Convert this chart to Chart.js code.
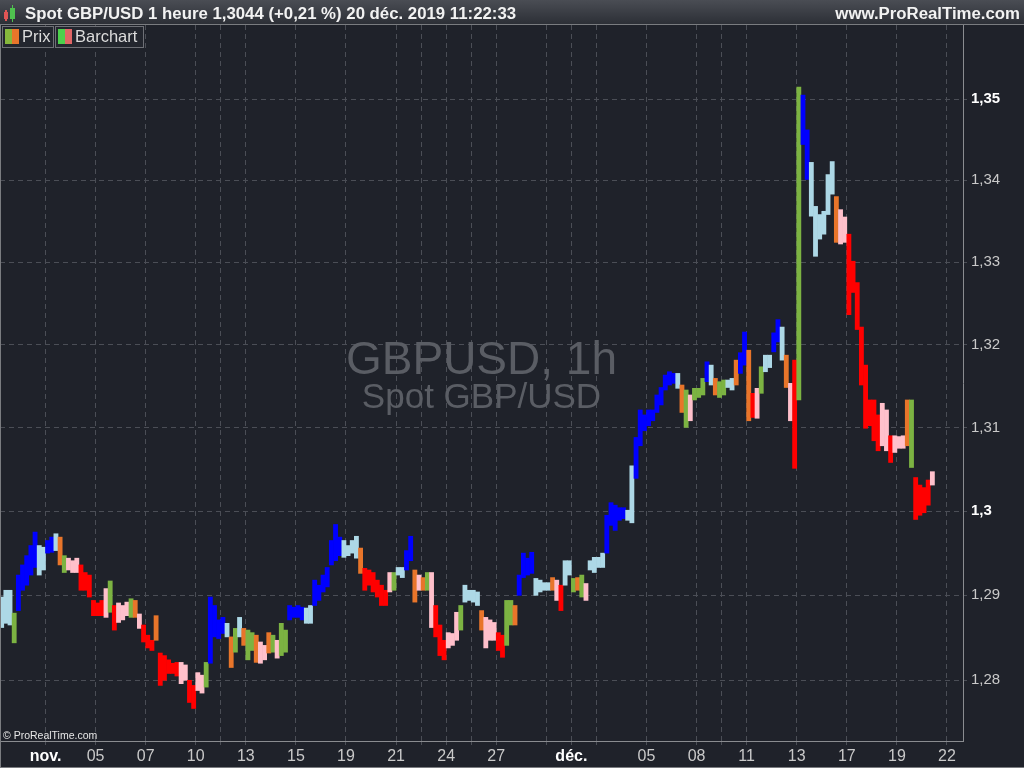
<!DOCTYPE html>
<html>
<head>
<meta charset="utf-8">
<script src="https://cdn.jsdelivr.net/npm/chart.js@4.4.1/dist/chart.umd.min.js"></script>
<style>
  html, body { margin: 0; padding: 0; background: #1f222a; }
  #c { display: block; }
</style>
</head>
<body>
<canvas id="c" width="1024" height="768"></canvas>
<script>
// GBP/USD hourly chart, aggregated to 4-hour bars (6 per trading day).
// Bar 0 starts 11 bars before the 1 Nov session.

const BARS_PER_DAY = 6;
const FIRST_BAR = -11;

const highs = [
  1.2898, 1.2906, 1.2906, 1.2879, 1.2924, 1.2936, 1.2947, 1.2959, 1.2975, 1.2959, 1.2957, 1.2965,
  1.2969, 1.2973, 1.2969, 1.2947, 1.2944, 1.2941, 1.2944, 1.2936, 1.2927, 1.2924, 1.2894, 1.2891,
  1.2894, 1.2908, 1.2917, 1.2888, 1.2891, 1.2888, 1.2892, 1.2896, 1.2894, 1.2878, 1.2865, 1.2853,
  1.2847, 1.2876, 1.2832, 1.2829, 1.2824, 1.2820, 1.2821, 1.2821, 1.2818, 1.2800, 1.2794, 1.2809,
  1.2806, 1.2821, 1.2898, 1.2888, 1.2871, 1.2874, 1.2867, 1.2851, 1.2861, 1.2874, 1.2861, 1.2859,
  1.2856, 1.2853, 1.2845, 1.2841, 1.2856, 1.2853, 1.2847, 1.2867, 1.2859, 1.2888, 1.2886, 1.2888,
  1.2886, 1.2885, 1.2888, 1.2918, 1.2912, 1.2924, 1.2933, 1.2965, 1.2984, 1.2969, 1.2965, 1.2959,
  1.2965, 1.2970, 1.2956, 1.2932, 1.2930, 1.2927, 1.2918, 1.2912, 1.2906, 1.2927, 1.2927, 1.2933,
  1.2933, 1.2953, 1.2970, 1.2930, 1.2924, 1.2921, 1.2927, 1.2927, 1.2888, 1.2865, 1.2847, 1.2856,
  1.2855, 1.2880, 1.2888, 1.2912, 1.2906, 1.2906, 1.2904, 1.2882, 1.2874, 1.2871, 1.2868, 1.2856,
  1.2853, 1.2894, 1.2894, 1.2888, 1.2924, 1.2950, 1.2944, 1.2951, 1.2920, 1.2918, 1.2915, 1.2915,
  1.2921, 1.2918, 1.2912, 1.2941, 1.2941, 1.2920, 1.2921, 1.2924, 1.2914, 1.2941, 1.2945, 1.2945,
  1.2950, 1.2995, 1.3010, 1.3007, 1.3004, 1.3004, 1.3001, 1.3054, 1.3088, 1.3121, 1.3115, 1.3121,
  1.3121, 1.3139, 1.3148, 1.3163, 1.3167, 1.3165, 1.3165, 1.3151, 1.3145, 1.3139, 1.3147, 1.3147,
  1.3159, 1.3179, 1.3175, 1.3159, 1.3155, 1.3157, 1.3157, 1.3159, 1.3181, 1.3190, 1.3215, 1.3193,
  1.3141, 1.3147, 1.3173, 1.3187, 1.3187, 1.3214, 1.3230, 1.3221, 1.3187, 1.3153, 1.3181, 1.3515,
  1.3505, 1.3462, 1.3422, 1.3368, 1.3358, 1.3362, 1.3407, 1.3423, 1.3380, 1.3364, 1.3355, 1.3334,
  1.3301, 1.3275, 1.3221, 1.3175, 1.3133, 1.3133, 1.3115, 1.3129, 1.3121, 1.3090, 1.3090, 1.3089,
  1.3090, 1.3133, 1.3133, 1.3040, 1.3031, 1.3028, 1.3037, 1.3047,
];

const lows = [
  1.2862, 1.2867, 1.2865, 1.2844, 1.2882, 1.2906, 1.2912, 1.2924, 1.2933, 1.2924, 1.2930, 1.2950,
  1.2951, 1.2953, 1.2936, 1.2927, 1.2930, 1.2927, 1.2927, 1.2906, 1.2906, 1.2898, 1.2876, 1.2876,
  1.2876, 1.2874, 1.2880, 1.2859, 1.2868, 1.2871, 1.2876, 1.2874, 1.2874, 1.2861, 1.2845, 1.2838,
  1.2835, 1.2847, 1.2794, 1.2800, 1.2808, 1.2808, 1.2805, 1.2796, 1.2800, 1.2774, 1.2767, 1.2788,
  1.2785, 1.2792, 1.2820, 1.2851, 1.2849, 1.2855, 1.2851, 1.2815, 1.2833, 1.2851, 1.2841, 1.2824,
  1.2835, 1.2821, 1.2820, 1.2824, 1.2832, 1.2833, 1.2826, 1.2829, 1.2833, 1.2871, 1.2874, 1.2874,
  1.2871, 1.2867, 1.2867, 1.2888, 1.2894, 1.2904, 1.2910, 1.2936, 1.2941, 1.2947, 1.2945, 1.2947,
  1.2950, 1.2944, 1.2926, 1.2906, 1.2912, 1.2904, 1.2898, 1.2888, 1.2888, 1.2904, 1.2906, 1.2924,
  1.2921, 1.2930, 1.2941, 1.2892, 1.2906, 1.2906, 1.2906, 1.2862, 1.2851, 1.2829, 1.2824, 1.2838,
  1.2841, 1.2847, 1.2859, 1.2892, 1.2894, 1.2892, 1.2888, 1.2859, 1.2838, 1.2847, 1.2847, 1.2835,
  1.2827, 1.2841, 1.2865, 1.2865, 1.2900, 1.2921, 1.2924, 1.2926, 1.2900, 1.2904, 1.2906, 1.2906,
  1.2906, 1.2894, 1.2882, 1.2912, 1.2924, 1.2904, 1.2906, 1.2898, 1.2894, 1.2930, 1.2927, 1.2933,
  1.2933, 1.2950, 1.2983, 1.2977, 1.2989, 1.2991, 1.2989, 1.2986, 1.3039, 1.3078, 1.3096, 1.3102,
  1.3108, 1.3118, 1.3127, 1.3145, 1.3151, 1.3153, 1.3147, 1.3118, 1.3100, 1.3108, 1.3133, 1.3136,
  1.3139, 1.3155, 1.3151, 1.3139, 1.3136, 1.3139, 1.3148, 1.3145, 1.3151, 1.3165, 1.3175, 1.3108,
  1.3112, 1.3111, 1.3141, 1.3167, 1.3172, 1.3191, 1.3203, 1.3181, 1.3148, 1.3108, 1.3051, 1.3133,
  1.3444, 1.3401, 1.3356, 1.3307, 1.3328, 1.3334, 1.3358, 1.3383, 1.3324, 1.3322, 1.3324, 1.3236,
  1.3263, 1.3218, 1.3151, 1.3099, 1.3102, 1.3084, 1.3072, 1.3078, 1.3072, 1.3058, 1.3070, 1.3075,
  1.3075, 1.3078, 1.3052, 1.2990, 1.2995, 1.2998, 1.3007, 1.3031,
];

// B blue, L light blue, R red, P pink, G green, O orange
const colorCodes = [
  "LLLGBBBBBLLB", "BLOGPPPRRRRR", "RPGRPPPGOPRR", "RORRRRRPPRRP",
  "PGBBBBLOGLOG", "GOPPOGPGGBBB", "BLLBBBBBBBLL", "LLORRRRRRPGL",
  "LBBOPOGPRRRP", "PPGLLLLOPPPR", "RGGOBBBBLLLL", "OPRLLGOGPLLL",
  "LBBBBBLLBBBB", "BBBBBBLOGPGG", "GBLOGGLLOBBO", "RPGLLBBLOPRG",
  "BBLLLLLLOPPR", "RRRRRRRPPRPP", "POGRRRRP",
].join("").split("");

// x-axis: trading-day index (0 = 1 Nov) with its label ("" = grid line only)
const tickDays   = [0, 2, 4, 6, 7, 8, 10, 12, 14, 15, 16, 17, 18, 20, 21, 22, 24, 26, 27, 28, 30, 32, 34, 36];
const tickLabels = ["nov.", "05", "07", "10", "", "13", "15", "19", "21", "", "24", "", "27", "", "déc.", "", "05", "08", "", "11", "13", "17", "19", "22"];
const monthLabels = ["nov.", "déc."];

const priceTicks = [1.28, 1.29, 1.30, 1.31, 1.32, 1.33, 1.34, 1.35];
const boldPrices = [1.30, 1.35];

const C = {
  bg: "#1f222a", grid: "#4b4e56", axis: "#8a8c90", text: "#c9c9c9", bold: "#ffffff",
  water: "#5a5d64",
};
const BAR_COLORS = { B: "#0000ff", L: "#add8e6", R: "#ff0000", P: "#ffc0cb", G: "#7cb342", O: "#e8752a" };
const FONT = '"Liberation Sans", Arial, sans-serif';

const bars = highs.map((h, i) => ({ x: (FIRST_BAR + i + 0.5) / BARS_PER_DAY, y: [lows[i], h] }));

const chrome = {
  id: "chrome",
  beforeDraw(chart) {
    const { ctx } = chart;
    ctx.save();
    ctx.fillStyle = C.bg;
    ctx.fillRect(0, 0, chart.width, chart.height);
    ctx.restore();
  },
  beforeDatasetsDraw(chart) {
    const { ctx, chartArea: a } = chart;
    const cx = (a.left + a.right) / 2;
    ctx.save();
    ctx.fillStyle = C.water;
    ctx.textAlign = "center";
    ctx.textBaseline = "alphabetic";
    ctx.font = "46px " + FONT;
    ctx.fillText("GBPUSD, 1h", cx, 374);
    ctx.font = "35px " + FONT;
    ctx.fillText("Spot GBP/USD", cx, 408);
    ctx.restore();
  },
  afterDraw(chart) {
    const { ctx } = chart;
    ctx.save();
    // header strip
    const g = ctx.createLinearGradient(0, 0, 0, 25);
    g.addColorStop(0, "#4a4d54");
    g.addColorStop(1, "#2b2e35");
    ctx.fillStyle = g;
    ctx.fillRect(0, 0, chart.width, 25);
    ctx.fillStyle = "#7a7c80";
    ctx.fillRect(0, 24, chart.width, 1);
    // candle icon
    ctx.fillStyle = "#e05555"; ctx.fillRect(4, 12, 4, 7); ctx.fillRect(5, 10, 2, 11);
    ctx.fillStyle = "#4fc24f"; ctx.fillRect(10, 8, 5, 11); ctx.fillRect(12, 5, 1, 17);
    ctx.fillStyle = "#f2f2f2";
    ctx.font = "bold 16.8px " + FONT;
    ctx.textBaseline = "alphabetic";
    ctx.textAlign = "left";
    ctx.fillText("Spot GBP/USD 1 heure 1,3044 (+0,21 %) 20 déc. 2019 11:22:33", 25, 19);
    ctx.textAlign = "right";
    ctx.fillText("www.ProRealTime.com", 1020, 19);

    // legend boxes
    ctx.textAlign = "left";
    ctx.font = "16.5px " + FONT;
    ctx.strokeStyle = "#6e7076";
    ctx.lineWidth = 1;
    ctx.fillStyle = "#23262e";
    ctx.fillRect(2, 26, 51, 21); ctx.strokeRect(2.5, 26.5, 51, 21);
    ctx.fillRect(55, 26, 88, 21); ctx.strokeRect(55.5, 26.5, 88, 21);
    ctx.fillStyle = "#86b83c"; ctx.fillRect(5, 29, 7, 15);
    ctx.fillStyle = "#e8752a"; ctx.fillRect(12, 29, 7, 15);
    ctx.fillStyle = "#4cd04c"; ctx.fillRect(58, 29, 7, 15);
    ctx.fillStyle = "#e06666"; ctx.fillRect(65, 29, 7, 15);
    ctx.fillStyle = "#dcdcdc";
    ctx.fillText("Prix", 22, 42);
    ctx.fillText("Barchart", 75, 42);

    // copyright
    ctx.font = "10.5px " + FONT;
    ctx.fillStyle = "#e6e6e6";
    ctx.fillText("© ProRealTime.com", 3, 739);

    // outer frame
    ctx.fillStyle = "#7a7c80";
    ctx.fillRect(0, 25, 1, chart.height - 25);
    ctx.fillRect(0, chart.height - 1, chart.width, 1);
    ctx.restore();
  },
};

new Chart(document.getElementById("c"), {
  type: "bar",
  data: {
    datasets: [{
      data: bars,
      backgroundColor: colorCodes.map((c) => BAR_COLORS[c]),
      borderWidth: 0,
      barPercentage: 1,
      categoryPercentage: 1,
    }],
  },
  options: {
    responsive: false,
    animation: false,
    layout: { padding: { top: 25, left: 0, right: 0, bottom: 0 } },
    plugins: { legend: { display: false }, tooltip: { enabled: false } },
    scales: {
      x: {
        type: "linear",
        offset: false,
        min: -1.817,
        max: 36.64,
        afterFit: (s) => { s.height = 27; },
        afterBuildTicks: (s) => { s.ticks = tickDays.map((v) => ({ value: v })); },
        grid: { color: C.grid, tickLength: 4, offset: false },
        border: { display: true, color: C.axis, dash: [5, 4] },
        ticks: {
          autoSkip: false, maxRotation: 0, padding: 2,
          callback: (v, i) => tickLabels[i],
          color: (ctx) => monthLabels.includes(tickLabels[ctx.index]) ? C.bold : C.text,
          font: (ctx) => ({ family: FONT, size: 16, weight: monthLabels.includes(tickLabels[ctx.index]) ? "bold" : "normal" }),
        },
      },
      y: {
        type: "logarithmic",
        position: "right",
        min: 1.2729,
        max: 1.3592,
        afterFit: (s) => { s.width = 61; },
        afterBuildTicks: (s) => { s.ticks = priceTicks.map((v) => ({ value: v })); },
        grid: { color: C.grid, tickLength: 4 },
        border: { display: true, color: C.axis, dash: [5, 4] },
        ticks: {
          padding: 4,
          callback: (v) => String(+v.toFixed(2)).replace(".", ","),
          color: (ctx) => boldPrices.includes(ctx.tick.value) ? C.bold : C.text,
          font: (ctx) => ({ family: FONT, size: 15, weight: boldPrices.includes(ctx.tick.value) ? "bold" : "normal" }),
        },
      },
    },
  },
  plugins: [chrome],
});
</script>
</body>
</html>
